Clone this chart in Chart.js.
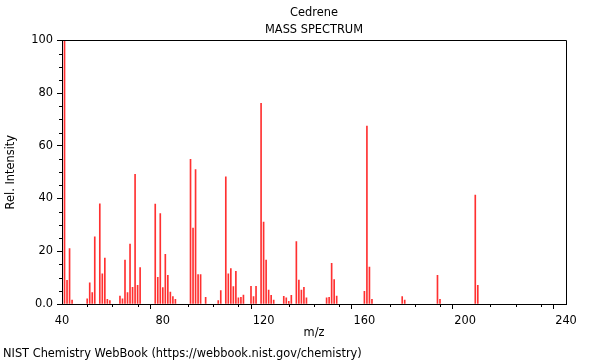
<!DOCTYPE html>
<html lang="en">
<head>
<meta charset="UTF-8">
<title>Cedrene - Mass Spectrum</title>
<script src="https://cdn.jsdelivr.net/npm/chart.js@4.4.1/dist/chart.umd.min.js"></script>
<style>
    body { margin: 0; background: #fff; }
    #wrap { position: relative; width: 600px; height: 360px; }
    #source {
        position: absolute; left: 3px; top: 346px;
        font: 11.4px "DejaVu Sans", sans-serif; color: #000; white-space: nowrap;
    }
</style>
</head>
<body>
<div id="wrap">
    <canvas id="spectrum" width="600" height="360"></canvas>
    <div id="source">NIST Chemistry WebBook (https://webbook.nist.gov/chemistry)</div>
</div>
<script>
// m/z values and relative intensities
var masses = [41, 42, 43, 44, 50, 51, 52, 53, 55, 56, 57, 58, 59, 63, 64, 65, 66, 67, 68, 69, 70, 71,
    77, 78, 79, 80, 81, 82, 83, 84, 85, 91, 92, 93, 94, 95, 97, 102, 103, 105, 106, 107, 108, 109,
    110, 111, 112, 115, 116, 117, 119, 120, 121, 122, 123, 124, 128, 129, 130, 131, 133, 134, 135,
    136, 137, 145, 146, 147, 148, 149, 160, 161, 162, 163, 175, 176, 189, 190, 204, 205]
var intensities = [100, 9, 21, 1.5, 2, 8, 4.3, 25.5, 38, 11.4, 17.4, 1.8, 1.3, 3, 2, 16.7, 4.3, 22.7, 6.3, 49.2, 7.1, 13.8,
    37.9, 10.1, 34.3, 6.2, 18.8, 10.9, 4.5, 2.8, 1.8, 54.9, 28.8, 51, 11.2, 11.2, 2.5, 1.3, 5.1, 48.2, 11.4, 13.4, 6.6, 12.4,
    2.3, 2.5, 3.4, 6.7, 2.8, 6.7, 76.1, 31.1, 16.7, 5.3, 3.3, 1.5, 2.9, 2.3, 1.0, 3.3, 23.7, 9.1, 5.3,
    6.3, 2.3, 2.3, 2.5, 15.4, 9.3, 3.0, 4.8, 67.5, 14.0, 1.8, 2.8, 1.5, 10.9, 1.8, 41.3, 7.1]

var xLabels = [40, 80, 120, 160, 200, 240]
var yLabels = [0, 20, 40, 60, 80, 100]

var font = { family: 'DejaVu Sans', size: 11.4, weight: 'normal' }

function majorTickColor(labels) {
    return function(c) {
        if (!c.tick) return '#000'
        return labels.indexOf(c.tick.value) >= 0 ? '#000' : 'rgba(0,0,0,0)'
    }
}

// short minor ticks + closing frame of the plot box
var frameAndMinorTicks = {
    id: 'frameAndMinorTicks',
    afterDraw: function(chart) {
        var ctx = chart.ctx
        var a = chart.chartArea
        var xs = chart.scales.x
        var ys = chart.scales.y
        ctx.save()
        ctx.strokeStyle = '#000'
        ctx.lineWidth = 1
        ctx.beginPath()
        ctx.moveTo(Math.round(a.left) + 0.5, Math.round(a.top) + 0.5)
        ctx.lineTo(Math.round(a.right) + 0.5, Math.round(a.top) + 0.5)
        ctx.lineTo(Math.round(a.right) + 0.5, Math.round(a.bottom) + 0.5)
        ctx.stroke()
        xs.ticks.forEach(function(t) {
            if (xLabels.indexOf(t.value) >= 0) return
            var px = Math.round(xs.getPixelForValue(t.value)) + 0.5
            ctx.beginPath()
            ctx.moveTo(px, a.bottom)
            ctx.lineTo(px, a.bottom + 3)
            ctx.stroke()
        })
        ys.ticks.forEach(function(t) {
            if (yLabels.indexOf(t.value) >= 0) return
            var py = Math.round(ys.getPixelForValue(t.value)) + 0.5
            ctx.beginPath()
            ctx.moveTo(a.left, py)
            ctx.lineTo(a.left - 3, py)
            ctx.stroke()
        })
        ctx.restore()
    }
}

var ctx = document.getElementById('spectrum').getContext('2d')
var chart = new Chart(ctx, {
    type: 'bar',
    data: {
        datasets: [{
            data: masses.map(function(m, i) { return { x: m, y: intensities[i] } }),
            backgroundColor: '#ff3030',
            borderWidth: 0,
            barThickness: 1
        }]
    },
    options: {
        responsive: false,
        animation: false,
        devicePixelRatio: 1,
        layout: { padding: { left: 4, right: 34, top: 0, bottom: 18 } },
        plugins: {
            legend: { display: false },
            tooltip: { enabled: false },
            title: {
                display: true, text: 'Cedrene', color: '#000', fullSize: false,
                font: font, padding: { top: 6, bottom: 2 }
            },
            subtitle: {
                display: true, text: 'MASS SPECTRUM', color: '#000', fullSize: false,
                font: font, padding: { top: 2, bottom: 3 }
            }
        },
        scales: {
            x: {
                type: 'linear', min: 40, max: 240, offset: false,
                afterFit: function(scale) { scale.height = 38 },
                border: { color: '#000' },
                grid: { drawOnChartArea: false, tickLength: 5, tickColor: majorTickColor(xLabels) },
                ticks: {
                    stepSize: 10, autoSkip: false, maxRotation: 0, padding: 5, color: '#000', font: font,
                    callback: function(v) { return xLabels.indexOf(v) >= 0 ? String(v) : '' }
                },
                title: { display: true, text: 'm/z', color: '#000', font: font, padding: { top: 2, bottom: 2 } }
            },
            y: {
                min: 0, max: 100,
                afterFit: function(scale) { scale.width = 58 },
                border: { color: '#000' },
                grid: { drawOnChartArea: false, tickLength: 5, tickColor: majorTickColor(yLabels) },
                ticks: {
                    stepSize: 5, autoSkip: false, padding: 4, color: '#000', font: font,
                    callback: function(v) {
                        if (yLabels.indexOf(v) < 0) return ''
                        return v === 0 ? '0.0' : String(v)
                    }
                },
                title: { display: true, text: 'Rel. Intensity', color: '#000', font: font, padding: { top: 0, bottom: 0 } }
            }
        }
    },
    plugins: [frameAndMinorTicks]
})
</script>
</body>
</html>
